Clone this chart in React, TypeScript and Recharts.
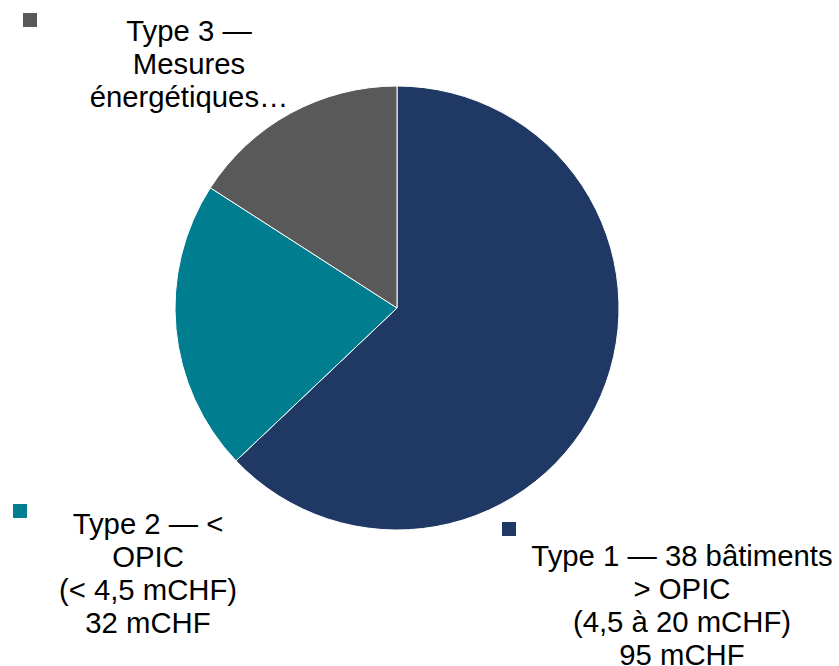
import React from "react";
import { PieChart, Pie, Cell } from "recharts";

// ─── Data ─────────────────────────────────────────────────────────────────────

const categories = ["Type 1", "Type 2", "Type 3"];
const values = [95, 32, 24]; // mCHF
const labelLines = [
  ["Type 1 — 38 bâtiments", "> OPIC", "(4,5 à 20 mCHF)", "95 mCHF"],
  ["Type 2 — <", "OPIC", "(< 4,5 mCHF)", "32 mCHF"],
  ["Type 3 —", "Mesures", "énergétiques…"],
];

// ─── Styling ──────────────────────────────────────────────────────────────────

const colors = ["#1F3864", "#007E90", "#595959"];

// label placement (key square top-left, text centre x, first baseline)
const labelPos = [
  { sx: 502, sy: 522, tx: 682, ty: 566 },
  { sx: 13, sy: 504, tx: 148, ty: 534 },
  { sx: 23, sy: 13, tx: 189, ty: 41 },
];

const data = categories.map((name, i) => ({ name, value: values[i] }));

const FONT = "'Liberation Sans', Arial, sans-serif";

const renderLabel = (props: any) => {
  const i = props.index as number;
  const p = labelPos[i];
  return (
    <g key={`lbl-${i}`}>
      <rect x={p.sx} y={p.sy} width={14} height={14} fill={colors[i]} />
      <text
        x={p.tx}
        y={p.ty}
        textAnchor="middle"
        fontFamily={FONT}
        fontSize={29.3}
        fill="#000"
      >
        {labelLines[i].map((line, k) => (
          <tspan key={k} x={p.tx} dy={k === 0 ? 0 : 33}>
            {line}
          </tspan>
        ))}
      </text>
    </g>
  );
};

// ─── Component ────────────────────────────────────────────────────────────────

export default function App() {
  return (
    <div style={{ position: "absolute", left: 0, top: 0, width: 839, height: 666, background: "#fff" }}>
      <PieChart width={839} height={666} margin={{ top: 0, right: 0, bottom: 0, left: 0 }}>
        <Pie
          data={data}
          dataKey="value"
          nameKey="name"
          cx={397}
          cy={308}
          outerRadius={222}
          startAngle={90}
          endAngle={-270}
          stroke="#ffffff"
          strokeWidth={1}
          label={renderLabel}
          labelLine={false}
          isAnimationActive={false}
        >
          {data.map((d, i) => (
            <Cell key={d.name} fill={colors[i]} />
          ))}
        </Pie>
      </PieChart>
    </div>
  );
}
